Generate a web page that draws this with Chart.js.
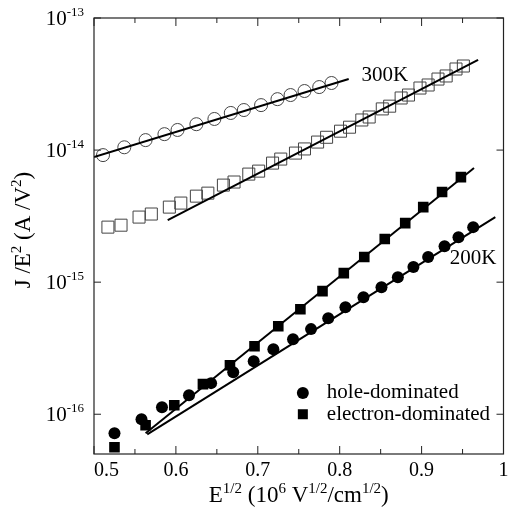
<!DOCTYPE html>
<html>
<head>
<meta charset="utf-8">
<script src="https://cdn.jsdelivr.net/npm/chart.js@4"></script>
<style>
  html, body { margin: 0; padding: 0; background: #fff; }
  canvas { display: block; }
</style>
</head>
<body>
<canvas id="jeChart" width="513" height="516"></canvas>
<script>
// 300K, open symbols
const hole300X = [0.511, 0.537, 0.563, 0.586, 0.602, 0.625, 0.647, 0.667, 0.683, 0.704, 0.724, 0.740, 0.757, 0.775, 0.790];
const hole300Y = [9.16e-15, 1.05e-14, 1.19e-14, 1.32e-14, 1.42e-14, 1.57e-14, 1.72e-14, 1.91e-14, 2.01e-14, 2.19e-14, 2.43e-14, 2.61e-14, 2.80e-14, 3.00e-14, 3.22e-14];

const elec300X = [0.517, 0.533, 0.555, 0.570, 0.592, 0.606, 0.625, 0.639, 0.658, 0.671, 0.689, 0.701, 0.718, 0.728, 0.746, 0.757,
                  0.773, 0.784, 0.801, 0.812, 0.827, 0.836, 0.852, 0.861, 0.875, 0.884, 0.898, 0.908, 0.920, 0.930, 0.942, 0.951];
const elec300Y = [2.61e-15, 2.70e-15, 3.11e-15, 3.28e-15, 3.70e-15, 3.97e-15, 4.48e-15, 4.72e-15, 5.43e-15, 5.73e-15, 6.58e-15, 6.93e-15,
                  7.97e-15, 8.55e-15, 9.49e-15, 1.02e-14, 1.15e-14, 1.25e-14, 1.39e-14, 1.49e-14, 1.69e-14, 1.78e-14, 2.05e-14, 2.15e-14,
                  2.48e-14, 2.61e-14, 2.95e-14, 3.11e-14, 3.45e-14, 3.64e-14, 4.11e-14, 4.33e-14];

// 200K, filled symbols
const hole200X = [0.525, 0.558, 0.583, 0.616, 0.643, 0.670, 0.695, 0.719, 0.743, 0.765, 0.786, 0.807, 0.829, 0.851, 0.871, 0.890, 0.908, 0.928, 0.945, 0.963];
const hole200Y = [7.18e-17, 9.16e-17, 1.13e-16, 1.39e-16, 1.72e-16, 2.08e-16, 2.52e-16, 3.11e-16, 3.70e-16, 4.41e-16, 5.34e-16, 6.47e-16,
                  7.70e-16, 9.16e-16, 1.09e-15, 1.30e-15, 1.55e-15, 1.87e-15, 2.19e-15, 2.61e-15];

const elec200X = [0.525, 0.563, 0.598, 0.633, 0.666, 0.696, 0.725, 0.752, 0.779, 0.805, 0.830, 0.855, 0.880, 0.902, 0.925, 0.948];
const elec200Y = [5.62e-17, 8.26e-17, 1.17e-16, 1.69e-16, 2.35e-16, 3.27e-16, 4.64e-16, 6.24e-16, 8.55e-16, 1.17e-15, 1.55e-15, 2.12e-15,
                  2.80e-15, 3.70e-15, 4.81e-15, 6.24e-15];

// straight-line fits (end points)
const fitHole300X = [0.500, 0.811], fitHole300Y = [8.85e-15, 3.45e-14];
const fitElec300X = [0.590, 0.969], fitElec300Y = [2.95e-15, 4.81e-14];
const fitElec200X = [0.563, 0.964], fitElec200Y = [7.18e-17, 7.31e-15];
const fitHole200X = [0.565, 0.990], fitHole200Y = [7.05e-17, 3.11e-15];

const xTicks = [0.5, 0.55, 0.6, 0.65, 0.7, 0.75, 0.8, 0.85, 0.9, 0.95, 1.0];
const xLabels = ['0.5', '', '0.6', '', '0.7', '', '0.8', '', '0.9', '', '1'];
const yTicks = [1e-16, 1e-15, 1e-14, 1e-13];
const yExps = ['-16', '-15', '-14', '-13'];

const FONT = '"Liberation Serif", "Times New Roman", serif';

const pts = (xs, ys) => xs.map((x, i) => ({ x: x, y: ys[i] }));

function fitLine(xs, ys) {
    return {
        data: pts(xs, ys),
        showLine: true,
        borderColor: '#000',
        borderWidth: 2,
        pointRadius: 0,
        order: 0
    };
}

// text with superscripts; parts = [[text, isSup], ...]
function richWidth(ctx, parts, size, supSize) {
    let w = 0;
    parts.forEach(p => {
        ctx.font = (p[1] ? supSize : size) + 'px ' + FONT;
        w += ctx.measureText(p[0]).width;
    });
    return w;
}
function drawRich(ctx, parts, x, y, size, supSize, supRise) {
    let cx = x;
    parts.forEach(p => {
        ctx.font = (p[1] ? supSize : size) + 'px ' + FONT;
        ctx.fillText(p[0], cx, p[1] ? y - supRise : y);
        cx += ctx.measureText(p[0]).width;
    });
}

const framePlugin = {
    id: 'frame',
    afterDraw(chart) {
        const ctx = chart.ctx;
        const a = chart.chartArea;
        const xs = chart.scales.x, ys = chart.scales.y;
        ctx.save();
        ctx.strokeStyle = '#222';
        ctx.fillStyle = '#000';
        ctx.lineWidth = 1.2;
        ctx.strokeRect(a.left, a.top, a.right - a.left, a.bottom - a.top);

        // x ticks, inward on top and bottom
        ctx.lineWidth = 1;
        ctx.textBaseline = 'alphabetic';
        xTicks.forEach((v, i) => {
            const px = xs.getPixelForValue(v);
            const len = xLabels[i] ? 8 : 5;
            ctx.beginPath();
            ctx.moveTo(px, a.bottom); ctx.lineTo(px, a.bottom - len);
            ctx.moveTo(px, a.top); ctx.lineTo(px, a.top + len);
            ctx.stroke();
            if (xLabels[i]) {
                ctx.font = '20px ' + FONT;
                ctx.textAlign = i === 0 ? 'left' : 'center';
                ctx.fillText(xLabels[i], px, a.bottom + 22);
            }
        });

        // y ticks and labels 10^n
        ctx.textAlign = 'left';
        yTicks.forEach((v, i) => {
            const py = ys.getPixelForValue(v);
            ctx.beginPath();
            ctx.moveTo(a.left, py); ctx.lineTo(a.left + 7, py);
            ctx.moveTo(a.right, py); ctx.lineTo(a.right - 7, py);
            ctx.stroke();
            const parts = [['10', false], [yExps[i], true]];
            const w = richWidth(ctx, parts, 21, 13);
            drawRich(ctx, parts, a.left - 10 - w, py + 7, 21, 13, 9);
        });

        // x title
        const xt = [['E', false], ['1/2', true], [' (10', false], ['6', true], [' V', false], ['1/2', true], ['/cm', false], ['1/2', true], [')', false]];
        const xw = richWidth(ctx, xt, 23, 15);
        drawRich(ctx, xt, (a.left + a.right) / 2 - xw / 2, 502, 23, 15, 9);

        // y title, rotated
        const yt = [['J /E', false], ['2', true], [' (A /V', false], ['2', true], [')', false]];
        const yw = richWidth(ctx, yt, 23, 15);
        ctx.save();
        ctx.translate(30, 230);
        ctx.rotate(-Math.PI / 2);
        drawRich(ctx, yt, -yw / 2, 0, 23, 15, 9);
        ctx.restore();

        // temperature labels
        ctx.font = '21px ' + FONT;
        ctx.textAlign = 'center';
        ctx.textBaseline = 'middle';
        ctx.fillText('300K', xs.getPixelForValue(0.855), ys.getPixelForValue(3.7e-14));
        ctx.fillText('200K', xs.getPixelForValue(0.963), ys.getPixelForValue(1.5e-15));

        // legend
        const lx = xs.getPixelForValue(0.755);
        const ly1 = ys.getPixelForValue(1.45e-16), ly2 = ys.getPixelForValue(1.0e-16);
        ctx.beginPath();
        ctx.arc(lx, ly1, 6, 0, Math.PI * 2);
        ctx.fill();
        ctx.fillRect(lx - 5, ly2 - 5, 10, 10);
        ctx.textAlign = 'left';
        ctx.fillText('hole-dominated', lx + 24, ly1);
        ctx.fillText('electron-dominated', lx + 24, ly2);
        ctx.restore();
    }
};

new Chart(document.getElementById('jeChart'), {
    type: 'scatter',
    data: {
        datasets: [
            fitLine(fitHole300X, fitHole300Y),
            fitLine(fitElec300X, fitElec300Y),
            fitLine(fitElec200X, fitElec200Y),
            fitLine(fitHole200X, fitHole200Y),
            {
                label: '300K hole',
                data: pts(hole300X, hole300Y),
                pointStyle: 'circle',
                pointRadius: 6.5,
                pointBackgroundColor: 'rgba(0,0,0,0)',
                pointBorderColor: '#444',
                pointBorderWidth: 1,
                order: 1
            },
            {
                label: '300K electron',
                data: pts(elec300X, elec300Y),
                pointStyle: 'rect',
                pointRadius: 8.5,
                pointBackgroundColor: 'rgba(0,0,0,0)',
                pointBorderColor: '#444',
                pointBorderWidth: 1,
                order: 1
            },
            {
                label: 'hole-dominated',
                data: pts(hole200X, hole200Y),
                pointStyle: 'circle',
                pointRadius: 6,
                pointBackgroundColor: '#000',
                pointBorderColor: '#000',
                pointBorderWidth: 0,
                order: 1
            },
            {
                label: 'electron-dominated',
                data: pts(elec200X, elec200Y),
                pointStyle: 'rect',
                pointRadius: 7.5,
                pointBackgroundColor: '#000',
                pointBorderColor: '#000',
                pointBorderWidth: 0,
                order: 1
            }
        ]
    },
    options: {
        responsive: false,
        animation: false,
        layout: {
            padding: { left: 94, right: 5, top: 18, bottom: 62 }
        },
        plugins: {
            legend: { display: false },
            tooltip: { enabled: false }
        },
        scales: {
            x: { type: 'linear', min: 0.5, max: 1.0, display: false },
            y: { type: 'logarithmic', min: 5e-17, max: 1e-13, display: false }
        }
    },
    plugins: [framePlugin]
});
</script>
</body>
</html>
